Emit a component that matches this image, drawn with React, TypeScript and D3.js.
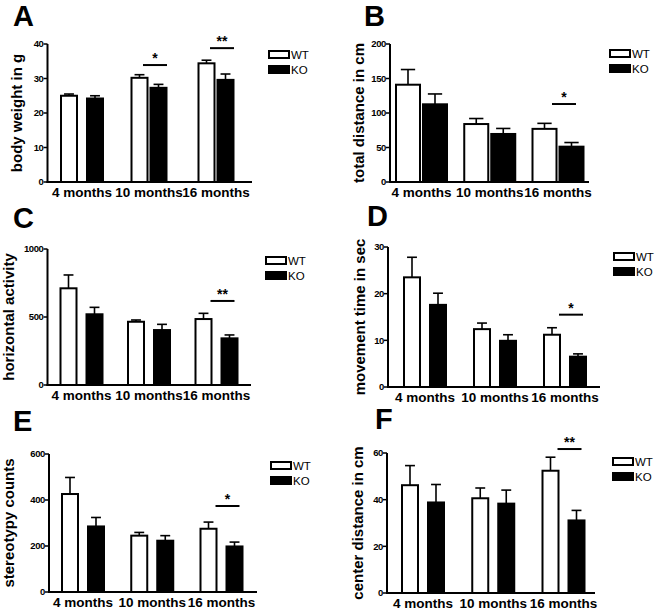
import React from "react";
import * as d3 from "d3";

const groups = ["4 months", "10 months", "16 months"];
const seriesNames = ["WT", "KO"];
const panelIds = ["A", "B", "C", "D", "E", "F"];
const yTitles = [
  "body weight in g",
  "total distance in cm",
  "horizontal activity",
  "movement time in sec",
  "stereotypy counts",
  "center distance in cm",
];
const yMaxes = [40, 200, 1000, 30, 600, 60];
const yTickValues = [
  [0, 10, 20, 30, 40],
  [0, 50, 100, 150, 200],
  [0, 500, 1000],
  [0, 10, 20, 30],
  [0, 200, 400, 600],
  [0, 20, 40, 60],
];
const wtMean = [
  [25.0, 30.2, 34.4],
  [141, 84, 77],
  [711, 465, 485],
  [23.5, 12.4, 11.2],
  [426, 245, 275],
  [46.2, 40.6, 52.4],
];
const wtSem = [
  [0.5, 0.9, 0.9],
  [22, 8, 8],
  [98, 13, 42],
  [4.3, 1.3, 1.5],
  [72, 14, 29],
  [8.4, 4.4, 5.8],
];
const koMean = [
  [24.2, 27.3, 29.6],
  [112.6, 69.6, 51.2],
  [520, 404, 343],
  [17.6, 9.9, 6.5],
  [285, 223, 198],
  [38.8, 38.3, 31.1],
];
const koSem = [
  [0.8, 1.0, 1.7],
  [15, 8, 6],
  [51, 42, 25],
  [2.5, 1.3, 0.6],
  [39, 22, 19],
  [7.7, 5.8, 4.3],
];
const sigMarks = [
  ["", "*", "**"],
  ["", "", "*"],
  ["", "", "**"],
  ["", "", "*"],
  ["", "", "*"],
  ["", "", "**"],
];
const sigLevels = [
  [0, 33.9, 38.8],
  [0, 0, 113],
  [0, 0, 618],
  [0, 0, 15.5],
  [0, 0, 374],
  [0, 0, 61.7],
];

// Layout (pixel geometry of each panel)
const layout = [
  { axisX: 47.5, yTop: 44, yBottom: 182, xEnd: 252, c0: 82, c2: 216, bw: 18, gaps: [8, 1, 1], legX: 268, legY: 51, titleX: 22, letX: 13, letY: 26 },
  { axisX: 390, yTop: 44, yBottom: 182, xEnd: 589, c0: 421.5, c2: 558, bw: 26, gaps: [1, 1, 1], legX: 609, legY: 50, titleX: 364, letX: 364, letY: 26 },
  { axisX: 47.5, yTop: 249, yBottom: 385, xEnd: 251, c0: 81.5, c2: 216.5, bw: 18, gaps: [8, 8, 8], legX: 265, legY: 257, titleX: 14, letX: 13, letY: 228 },
  { axisX: 388, yTop: 247, yBottom: 387, xEnd: 600, c0: 425, c2: 565, bw: 18, gaps: [8, 8, 8], legX: 613, legY: 253, titleX: 365, letX: 367, letY: 226 },
  { axisX: 49, yTop: 454, yBottom: 592, xEnd: 257, c0: 83, c2: 221.5, bw: 18, gaps: [8, 8, 8], legX: 270, legY: 462, titleX: 14, letX: 13, letY: 431 },
  { axisX: 387, yTop: 453, yBottom: 593, xEnd: 595, c0: 423, c2: 563.5, bw: 18, gaps: [8, 8, 8], legX: 612, legY: 458, titleX: 363, letX: 375, letY: 429 },
];

const FONT = "'Liberation Sans', Arial, sans-serif";

function Panel({ i }: { i: number }) {
  const L = layout[i];
  const y = d3.scaleLinear().domain([0, yMaxes[i]]).range([L.yBottom, L.yTop]);
  const x = d3.scalePoint<string>().domain(groups).range([L.c0, L.c2]);
  const series = [
    { name: seriesNames[0], mean: wtMean[i], sem: wtSem[i], fill: "#fff" },
    { name: seriesNames[1], mean: koMean[i], sem: koSem[i], fill: "#000" },
  ];
  return (
    <g>
      <text x={L.letX} y={L.letY} fontFamily={FONT} fontWeight="bold" fontSize={29} fill="#000">
        {panelIds[i]}
      </text>
      <text
        transform={`translate(${L.titleX},${(L.yTop + L.yBottom) / 2}) rotate(-90)`}
        textAnchor="middle"
        fontFamily={FONT}
        fontWeight="bold"
        fontSize={15}
        fill="#000"
      >
        {yTitles[i]}
      </text>
      {groups.map((g, gi) => {
        const cx = x(g) as number;
        const gap = L.gaps[gi];
        return series.map((s, si) => {
          const bx = si === 0 ? cx - gap / 2 - L.bw : cx + gap / 2;
          const top = y(s.mean[gi]);
          const errTop = y(s.mean[gi] + s.sem[gi]);
          const mid = bx + L.bw / 2;
          const capW = L.bw * 0.55;
          return (
            <g key={`${g}-${si}`}>
              <line x1={mid} x2={mid} y1={top} y2={errTop} stroke="#000" strokeWidth={1.6} />
              <line x1={mid - capW / 2} x2={mid + capW / 2} y1={errTop} y2={errTop} stroke="#000" strokeWidth={1.6} />
              <rect
                x={bx + 1}
                y={top}
                width={L.bw - 2}
                height={L.yBottom - top}
                fill={s.fill}
                stroke="#000"
                strokeWidth={2}
              />
            </g>
          );
        });
      })}
      {groups.map((g, gi) => {
        const m = sigMarks[i][gi];
        if (!m) return null;
        const cx = (x(g) as number) + 6;
        const ly = y(sigLevels[i][gi]);
        return (
          <g key={`sig-${g}`}>
            <line x1={cx - 12} x2={cx + 12} y1={ly} y2={ly} stroke="#000" strokeWidth={2} />
            <text x={cx} y={ly - 2} textAnchor="middle" fontFamily={FONT} fontWeight="bold" fontSize={14} fill="#000">
              {m}
            </text>
          </g>
        );
      })}
      <line x1={L.axisX} x2={L.axisX} y1={L.yTop} y2={L.yBottom + 1} stroke="#000" strokeWidth={2} />
      <line x1={L.axisX - 1} x2={L.xEnd} y1={L.yBottom} y2={L.yBottom} stroke="#000" strokeWidth={2} />
      {yTickValues[i].map((t) => (
        <g key={`t${t}`}>
          <line x1={L.axisX - 4} x2={L.axisX} y1={y(t)} y2={y(t)} stroke="#000" strokeWidth={1.5} />
          <text
            x={L.axisX - 4}
            y={y(t) + 3.3}
            textAnchor="end"
            fontFamily={FONT}
            fontWeight="bold"
            fontSize={9.5}
            letterSpacing={-0.4}
            fill="#000"
          >
            {t}
          </text>
        </g>
      ))}
      {groups.map((g) => (
        <text
          key={`xl-${g}`}
          x={x(g) as number}
          y={L.yBottom + 15}
          textAnchor="middle"
          fontFamily={FONT}
          fontWeight="bold"
          fontSize={13.5}
          fill="#000"
        >
          {g}
        </text>
      ))}
      {series.map((s, si) => (
        <g key={`leg-${si}`}>
          <rect x={L.legX + 1} y={L.legY + si * 15} width={20} height={7} fill={s.fill} stroke="#000" strokeWidth={2} />
          <text x={L.legX + 23} y={L.legY + si * 15 + 8} fontFamily={FONT} fontSize={11.5} fill="#000">
            {s.name}
          </text>
        </g>
      ))}
    </g>
  );
}

export default function App() {
  return (
    <svg
      width={661}
      height={614}
      viewBox="0 0 661 614"
      style={{ position: "absolute", left: 0, top: 0, background: "#fff" }}
    >
      <rect width={661} height={614} fill="#fff" />
      {panelIds.map((_, i) => (
        <Panel key={i} i={i} />
      ))}
    </svg>
  );
}
